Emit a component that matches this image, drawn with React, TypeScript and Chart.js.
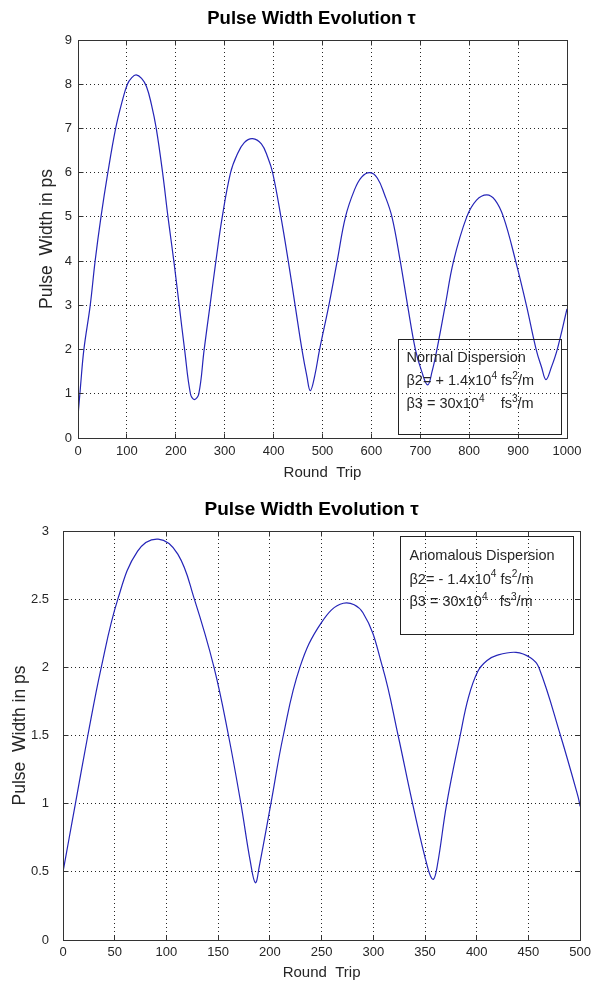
import React, { useEffect, useRef } from "react";
import { Chart, registerables } from "chart.js";

Chart.register(...registerables);

const FONT = "'Liberation Sans', Arial, Helvetica, sans-serif";
const TEXT = "#262626";
const FRAME = "#333333";
const GRID = "rgba(0,0,0,0.85)";
const LINE = "#2525b8";

// ---------- Top panel: normal dispersion ----------
const TOP_ROUND_TRIP = [
  0, 5, 12, 25, 35, 47, 61, 77, 90, 101, 110, 119, 130, 140, 150, 160, 173, 184, 196, 207, 218, 230, 238,
  247, 258, 270, 282, 295, 312, 325, 340, 357, 375, 388, 398, 415, 430, 444, 458, 468, 475,
  484, 494, 513, 530, 547, 565, 580, 597, 612, 627, 642, 659, 674, 690, 703, 715,
  724, 734, 751, 768, 795, 815, 836, 853, 870, 895, 917, 937, 948, 957,
  968, 980, 1000,
];
const TOP_PULSE_WIDTH = [
  0.5, 1.15, 2, 3, 4, 5, 6, 7, 7.6, 8, 8.15, 8.21, 8.13, 7.95, 7.55, 7, 6, 5, 4, 3, 2, 1, 0.87,
  1, 2, 3, 4, 5, 6, 6.4, 6.68, 6.77, 6.65, 6.35, 6, 5, 4, 3, 2, 1.4, 1.07,
  1.4, 2, 3, 4, 5, 5.6, 5.9, 6.0, 5.88, 5.5, 5, 4, 3, 2, 1.5, 1.2,
  1.5, 2, 3, 4, 5, 5.38, 5.5, 5.38, 5, 4, 3, 2, 1.6, 1.32,
  1.6, 2, 2.92,
];
const TOP_X_TICKS = [0, 100, 200, 300, 400, 500, 600, 700, 800, 900, 1000];
const TOP_Y_TICKS = [0, 1, 2, 3, 4, 5, 6, 7, 8, 9];

// ---------- Bottom panel: anomalous dispersion ----------
const BOTTOM_ROUND_TRIP = [
  0, 6, 12, 24, 37, 53, 72, 92, 111, 127, 146, 160, 172, 181, 186,
  190, 201, 213, 229, 250, 271, 290, 309, 324, 338, 353, 358,
  362, 371, 384, 392, 401, 410, 420, 438, 452, 460, 481, 498, 500,
];
const BOTTOM_PULSE_WIDTH = [
  0.5, 0.75, 1, 1.5, 2, 2.5, 2.85, 2.94, 2.83, 2.5, 2, 1.5, 1, 0.58, 0.42,
  0.55, 1, 1.5, 2, 2.33, 2.47, 2.4, 2, 1.5, 1, 0.52, 0.445,
  0.55, 1, 1.5, 1.78, 1.97, 2.05, 2.09, 2.11, 2.07, 2, 1.5, 1.05, 0.98,
];
const BOTTOM_X_TICKS = [0, 50, 100, 150, 200, 250, 300, 350, 400, 450, 500];
const BOTTOM_Y_TICKS = [0, 0.5, 1, 1.5, 2, 2.5, 3];

const CHART_TITLE = "Pulse Width Evolution \u03c4";
const X_LABEL = "Round  Trip";
const Y_LABEL = "Pulse  Width in ps";

type Run = { t: string; sup?: boolean };
const TOP_NOTE: Run[][] = [
  [{ t: "Normal Dispersion" }],
  [{ t: "\u03b22= + 1.4x10" }, { t: "4", sup: true }, { t: " fs" }, { t: "2", sup: true }, { t: "/m" }],
  [{ t: "\u03b23 = 30x10" }, { t: "4", sup: true }, { t: "    fs" }, { t: "3", sup: true }, { t: "/m" }],
];
const BOTTOM_NOTE: Run[][] = [
  [{ t: "Anomalous Dispersion" }],
  [{ t: "\u03b22= - 1.4x10" }, { t: "4", sup: true }, { t: " fs" }, { t: "2", sup: true }, { t: "/m" }],
  [{ t: "\u03b23 = 30x10" }, { t: "4", sup: true }, { t: "   fs" }, { t: "3", sup: true }, { t: "/m" }],
];

interface Spec {
  xs: number[];
  ys: number[];
  xTicks: number[];
  yTicks: number[];
  width: number;
  height: number;
  padTop: number;
  padRight: number;
  yAxisWidth: number;
  xAxisHeight: number;
  xTickPad: number;
  yTickPad: number;
  xTitlePad: number;
  yTitlePad: number;
  titleSize: number;
  titleY: number;
  titleShift: number;
  note: Run[][];
  noteBox: { x0: number; x1: number; y0: number; y1: number };
  noteDx: number;
  noteBaselines: number[];
  noteSize: number;
}

const TOP_SPEC: Spec = {
  xs: TOP_ROUND_TRIP,
  ys: TOP_PULSE_WIDTH,
  xTicks: TOP_X_TICKS,
  yTicks: TOP_Y_TICKS,
  width: 596,
  height: 490,
  padTop: 40,
  padRight: 29,
  yAxisWidth: 78,
  xAxisHeight: 52,
  xTickPad: 6,
  yTickPad: 6,
  xTitlePad: 8.5,
  yTitlePad: 36.2,
  titleSize: 18.5,
  titleY: 18.5,
  titleShift: -11,
  note: TOP_NOTE,
  noteBox: { x0: 656, x1: 989, y0: 2.22, y1: 0.08 },
  noteDx: 8,
  noteBaselines: [22.5, 45.5, 68.8],
  noteSize: 14.5,
};

const BOTTOM_SPEC: Spec = {
  xs: BOTTOM_ROUND_TRIP,
  ys: BOTTOM_PULSE_WIDTH,
  xTicks: BOTTOM_X_TICKS,
  yTicks: BOTTOM_Y_TICKS,
  width: 596,
  height: 497,
  padTop: 41,
  padRight: 13,
  yAxisWidth: 63,
  xAxisHeight: 47,
  xTickPad: 5,
  yTickPad: 14,
  xTitlePad: 5,
  yTitlePad: 9.5,
  titleSize: 19,
  titleY: 20,
  titleShift: -10,
  note: BOTTOM_NOTE,
  noteBox: { x0: 326, x1: 494, y0: 2.957, y1: 2.243 },
  noteDx: 9,
  noteBaselines: [23, 47, 69.5],
  noteSize: 14.5,
};

const al = (p: number) => Math.round(p - 0.5) + 0.5;

function makeDecor(spec: Spec) {
  return {
    id: "decor",
    afterDraw(chart: any) {
      const { ctx, chartArea: a, scales } = chart;
      const sx = scales.x;
      const sy = scales.y;
      const L = al(a.left);
      const R = al(a.right);
      const T = al(a.top);
      const B = al(a.bottom);
      ctx.save();
      // frame box
      ctx.strokeStyle = FRAME;
      ctx.lineWidth = 1;
      ctx.setLineDash([]);
      ctx.strokeRect(L, T, R - L, B - T);
      // inward tick marks on all sides
      const tl = 5;
      ctx.beginPath();
      spec.xTicks.slice(1, -1).forEach((v) => {
        const p = al(sx.getPixelForValue(v));
        ctx.moveTo(p, B);
        ctx.lineTo(p, B - tl);
        ctx.moveTo(p, T);
        ctx.lineTo(p, T + tl);
      });
      spec.yTicks.slice(1, -1).forEach((v) => {
        const p = al(sy.getPixelForValue(v));
        ctx.moveTo(L, p);
        ctx.lineTo(L + tl, p);
        ctx.moveTo(R, p);
        ctx.lineTo(R - tl, p);
      });
      ctx.stroke();

      // title
      ctx.fillStyle = "#000";
      ctx.font = `bold ${spec.titleSize}px ${FONT}`;
      ctx.textAlign = "center";
      ctx.textBaseline = "middle";
      ctx.fillText(CHART_TITLE, (a.left + a.right) / 2 + spec.titleShift, spec.titleY);

      // annotation box
      const bx0 = al(sx.getPixelForValue(spec.noteBox.x0));
      const bx1 = al(sx.getPixelForValue(spec.noteBox.x1));
      const by0 = al(sy.getPixelForValue(spec.noteBox.y0));
      const by1 = al(sy.getPixelForValue(spec.noteBox.y1));
      ctx.strokeStyle = "#222";
      ctx.strokeRect(bx0, by0, bx1 - bx0, by1 - by0);
      ctx.fillStyle = TEXT;
      ctx.textAlign = "left";
      ctx.textBaseline = "alphabetic";
      spec.note.forEach((line, i) => {
        let x = bx0 + spec.noteDx;
        const base = by0 + spec.noteBaselines[i];
        line.forEach((run) => {
          const size = run.sup ? spec.noteSize * 0.7 : spec.noteSize;
          ctx.font = `${size}px ${FONT}`;
          const y = run.sup ? base - spec.noteSize * 0.42 : base;
          ctx.fillText(run.t, x, y);
          x += ctx.measureText(run.t).width;
        });
      });
      ctx.restore();
    },
  };
}

function Panel({ spec, top }: { spec: Spec; top: number }) {
  const ref = useRef<HTMLCanvasElement>(null);
  useEffect(() => {
    const canvas = ref.current;
    if (!canvas) return;
    const tickFont = { family: FONT, size: 13 };
    const xTitleFont = { family: FONT, size: 15 };
    const yTitleFont = { family: FONT, size: 17.5 };
    const chart = new Chart(canvas, {
      type: "line",
      data: {
        datasets: [
          {
            data: spec.xs.map((x, i) => ({ x, y: spec.ys[i] })),
            borderColor: LINE,
            borderWidth: 1.2,
            pointRadius: 0,
            fill: false,
            tension: 0.4,
          },
        ],
      },
      options: {
        responsive: false,
        animation: false,
        devicePixelRatio: 1,
        events: [],
        parsing: false,
        layout: { padding: { top: spec.padTop, right: spec.padRight, left: 0, bottom: 0 } },
        plugins: {
          legend: { display: false },
          tooltip: { enabled: false },
          title: { display: false },
        },
        scales: {
          x: {
            type: "linear",
            min: spec.xTicks[0],
            max: spec.xTicks[spec.xTicks.length - 1],
            afterBuildTicks: (s: any) => {
              s.ticks = spec.xTicks.map((v) => ({ value: v }));
            },
            afterFit: (s: any) => {
              s.height = spec.xAxisHeight;
            },
            ticks: {
              font: tickFont,
              color: TEXT,
              padding: spec.xTickPad,
              maxRotation: 0,
              autoSkip: false,
              callback: (v: any) => String(v),
            },
            grid: { color: GRID, lineWidth: 1, drawTicks: false },
            border: { display: false, dash: [1, 3] },
            title: {
              display: true,
              text: X_LABEL,
              font: xTitleFont,
              color: TEXT,
              padding: { top: 0, bottom: spec.xTitlePad },
            },
          },
          y: {
            type: "linear",
            min: spec.yTicks[0],
            max: spec.yTicks[spec.yTicks.length - 1],
            afterBuildTicks: (s: any) => {
              s.ticks = spec.yTicks.map((v) => ({ value: v }));
            },
            afterFit: (s: any) => {
              s.width = spec.yAxisWidth;
            },
            ticks: {
              font: tickFont,
              color: TEXT,
              padding: spec.yTickPad,
              autoSkip: false,
              callback: (v: any) => String(v),
            },
            grid: { color: GRID, lineWidth: 1, drawTicks: false },
            border: { display: false, dash: [1, 3] },
            title: {
              display: true,
              text: Y_LABEL,
              font: yTitleFont,
              color: TEXT,
              padding: { top: spec.yTitlePad, bottom: 0 },
            },
          },
        },
      },
      plugins: [makeDecor(spec)],
    } as any);
    return () => chart.destroy();
  }, [spec]);
  return (
    <canvas
      ref={ref}
      width={spec.width}
      height={spec.height}
      style={{ position: "absolute", left: 0, top, width: spec.width, height: spec.height }}
    />
  );
}

export default function App() {
  return (
    <div style={{ position: "absolute", left: 0, top: 0, width: 596, height: 987, background: "#fff" }}>
      <Panel spec={TOP_SPEC} top={0} />
      <Panel spec={BOTTOM_SPEC} top={490} />
    </div>
  );
}
